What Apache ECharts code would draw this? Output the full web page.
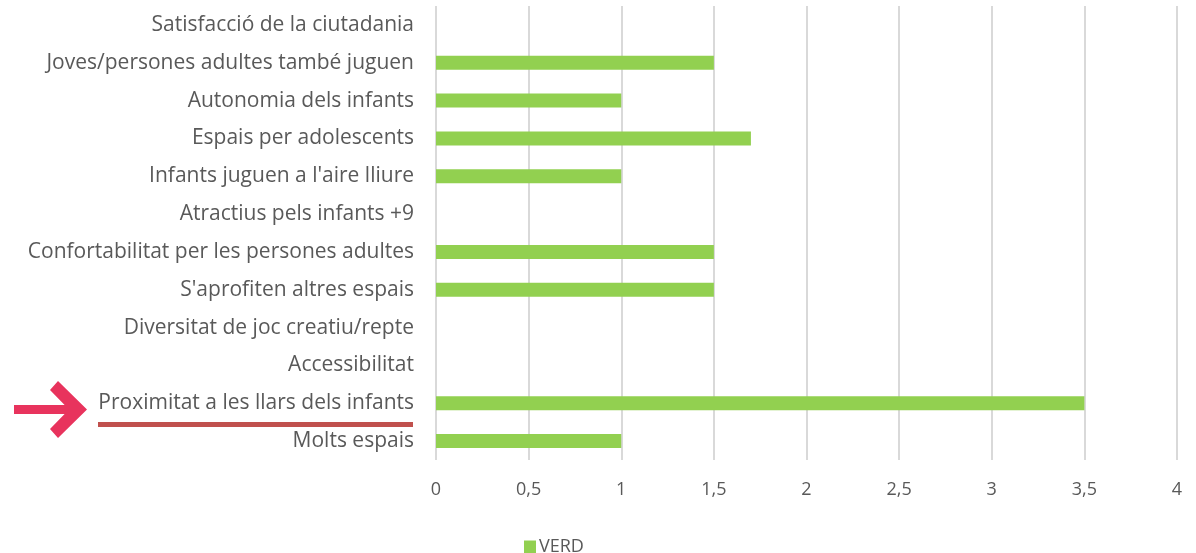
<!DOCTYPE html>
<html><head><meta charset="utf-8">
<script src="https://cdn.jsdelivr.net/npm/echarts@6/dist/echarts.min.js"></script>
<style>html,body{margin:0;padding:0;background:#fff}#c{width:1196px;height:553px}</style>
</head><body><div id="c"></div>
<script>
const categories = [
  "Satisfacció de la ciutadania",
  "Joves/persones adultes també juguen",
  "Autonomia dels infants",
  "Espais per adolescents",
  "Infants juguen a l'aire lliure",
  "Atractius pels infants +9",
  "Confortabilitat per les persones adultes",
  "S'aprofiten altres espais",
  "Diversitat de joc creatiu/repte",
  "Accessibilitat",
  "Proximitat a les llars dels infants",
  "Molts espais"
];
const verd = [0, 1.5, 1, 1.7, 1, 0, 1.5, 1.5, 0, 0, 3.5, 1];
const seriesName = "VERD";

const chart = echarts.init(document.getElementById('c'), null, {renderer: 'canvas'});
chart.setOption({
  animation: false,
  textStyle: {fontFamily: "Open Sans"},
  grid: {left: 436, right: 19, top: 6, bottom: 93, containLabel: false},
  xAxis: {
    type: 'value', min: 0, max: 4, interval: 0.5,
    axisLine: {show: false}, axisTick: {show: false},
    splitLine: {lineStyle: {color: '#d9d9d9', width: 2}},
    axisLabel: {color: '#595959', fontSize: 18, margin: 21,
      formatter: v => String(v).replace('.', ',')}
  },
  yAxis: {
    type: 'category', data: categories, inverse: true,
    axisLine: {show: false}, axisTick: {show: false},
    axisLabel: {color: '#595959', fontSize: 21, margin: 22}
  },
  legend: {
    data: [seriesName], left: 519, top: 533, itemWidth: 12, itemHeight: 13, itemGap: 4,
    icon: 'rect',
    textStyle: {color: '#595959', fontSize: 18, padding: [0,0,0,-2]}
  },
  series: [{
    name: seriesName, type: 'bar', data: verd, barWidth: 14,
    itemStyle: {color: '#92d050'}
  }],
  graphic: [
    {type: 'rect', shape: {x: 98, y: 422, width: 315, height: 5}, style: {fill: '#c0504d'}},
    {type: 'rect', shape: {x: 14, y: 405, width: 62, height: 9}, style: {fill: '#e8335d'}},
    {type: 'polygon', shape: {points: [[50,390],[58,381],[87,409.5],[58,438],[50,429],[69,409.5]]}, style: {fill: '#e8335d'}}
  ]
});
</script></body></html>
